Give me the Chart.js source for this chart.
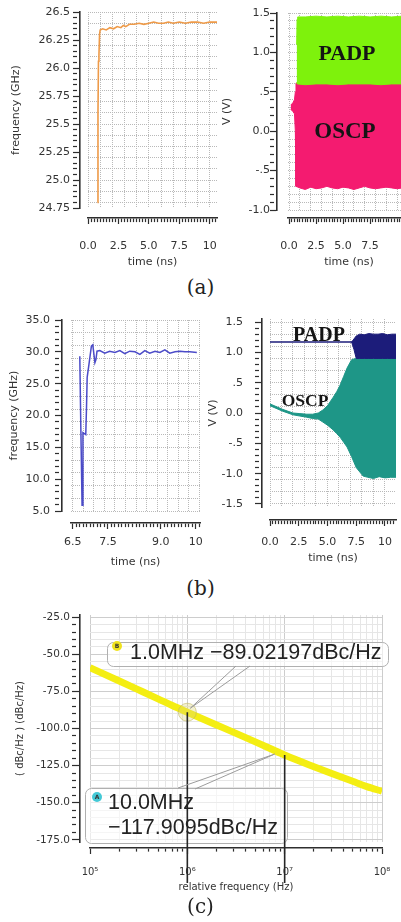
<!DOCTYPE html>
<html><head><meta charset="utf-8">
<script src="https://cdn.jsdelivr.net/npm/chart.js@4.4.1/dist/chart.umd.min.js"></script>
<style>
html,body{margin:0;padding:0;background:#fff;}
body{width:401px;height:922px;position:relative;overflow:hidden;}
canvas{position:absolute;}
.cap{position:absolute;left:0;width:401px;text-align:center;font-family:'DejaVu Serif',serif;font-size:20px;line-height:22px;color:#222;}
.lbl{position:absolute;font-family:'Liberation Serif','Times New Roman',serif;font-weight:bold;color:#141414;white-space:nowrap;transform:translate(-50%,-50%);line-height:1;}
.mk{position:absolute;font-family:'Liberation Sans',Arial,sans-serif;font-size:21.5px;color:#222;white-space:nowrap;line-height:25px;}
.badge{position:absolute;width:10px;height:10px;border-radius:50%;font:bold 6px 'DejaVu Sans',sans-serif;text-align:center;line-height:10px;color:#333;}
</style></head><body>
<canvas id="cA1" width="225" height="275" style="left:0;top:0"></canvas>
<canvas id="cA2" width="210" height="275" style="left:210px;top:0"></canvas>
<canvas id="cB1" width="210" height="275" style="left:0;top:300px"></canvas>
<canvas id="cB2" width="200" height="275" style="left:205px;top:300px"></canvas>
<canvas id="cC" width="401" height="300" style="left:0;top:600px"></canvas>

<div class="lbl" style="left:347px;top:53px;font-size:22px">PADP</div>
<div class="lbl" style="left:345px;top:130px;font-size:23px">OSCP</div>
<div class="lbl" style="left:319px;top:334px;font-size:20px">PADP</div>
<div class="lbl" style="left:305px;top:401px;font-size:17.5px">OSCP</div>

<div class="badge" style="left:112px;top:641px;background:#EFE21E">B</div>
<div class="mk" style="left:130px;top:640px">1.0MHz −89.02197dBc/Hz</div>
<div class="badge" style="left:92px;top:792px;background:#44C9D6">A</div>
<div class="mk" style="left:108px;top:790px">10.0MHz</div>
<div class="mk" style="left:108px;top:815px">−117.9095dBc/Hz</div>

<div class="cap" style="top:276px">(a)</div>
<div class="cap" style="top:577px">(b)</div>
<div class="cap" style="top:895px">(c)</div>

<script>
// ---------------- DATA ----------------
// (a) left: frequency settling
const aFreqTime = [0.78, 0.82, 0.86, 0.9, 0.95, 1.0, 1.2, 1.5, 1.8, 2.1, 2.4, 2.7, 2.9, 3.1, 3.4, 3.8, 4.2, 4.6, 5.0, 5.4, 5.8, 6.2, 6.6, 7.0, 7.5, 8.0, 8.5, 9.0, 9.5, 10.0, 10.6];
const aFreqVal  = [24.8, 25.6, 26.06, 26.12, 26.3, 26.34, 26.35, 26.34, 26.36, 26.35, 26.37, 26.36, 26.38, 26.37, 26.39, 26.39, 26.40, 26.39, 26.40, 26.41, 26.40, 26.40, 26.41, 26.40, 26.41, 26.40, 26.41, 26.41, 26.40, 26.41, 26.41];
const aLeftYMajors = [24.75, 25.0, 25.25, 25.5, 25.75, 26.0, 26.25, 26.5];
const aLeftYLabels = ['24.75', '25.0', '25.25', '25.5', '25.75', '26.0', '26.25', '26.5'];
const aXMajors = [0, 2.5, 5, 7.5, 10];
const aXLabels = ['0.0', '2.5', '5.0', '7.5', '10'];
const aRightXMajors = [0, 2.5, 5, 7.5];
const aRightXLabels = ['0.0', '2.5', '5.0', '7.5'];

// (a) right: PADP / OSCP envelopes
const aPadpTime = [0.7, 0.74, 0.8, 1.5, 2.5, 3.5, 4.5, 5.5, 6.5, 7.5, 8.5, 9.5, 10.5, 11.5];
const aPadpTop  = [1.1, 1.42, 1.45, 1.45, 1.46, 1.45, 1.46, 1.45, 1.46, 1.45, 1.46, 1.45, 1.46, 1.46];
const aPadpBot  = [0.62, 0.6, 0.6, 0.59, 0.6, 0.6, 0.59, 0.6, 0.6, 0.6, 0.59, 0.6, 0.6, 0.6];
const aOscpTime = [0.15, 0.35, 0.5, 0.58, 0.64, 1.0, 1.5, 2.0, 2.5, 3.0, 3.5, 4.0, 4.5, 5.0, 5.5, 6.0, 6.5, 7.0, 7.5, 8.0, 8.5, 9.0, 9.5, 10.0, 10.5, 11.5];
const aOscpTop  = [0.33, 0.36, 0.4, 0.5, 0.61, 0.61, 0.61, 0.61, 0.61, 0.61, 0.61, 0.61, 0.61, 0.61, 0.61, 0.61, 0.61, 0.61, 0.61, 0.61, 0.61, 0.61, 0.61, 0.61, 0.61, 0.61];
const aOscpBot  = [0.28, 0.25, 0.22, 0.0, -0.7, -0.72, -0.74, -0.71, -0.73, -0.72, -0.70, -0.72, -0.73, -0.71, -0.72, -0.74, -0.72, -0.70, -0.72, -0.73, -0.72, -0.71, -0.72, -0.73, -0.72, -0.72];
const aRightYMajors = [-1.0, -0.5, 0, 0.5, 1.0, 1.5];
const aRightYLabels = ['-1.0', '-.5', '0.0', '.5', '1.0', '1.5'];

// (b) left: frequency settling
const bFreqTime = [6.70, 6.73, 6.765, 6.79, 6.87, 6.89, 6.91, 6.96, 7.03, 7.07, 7.13, 7.16, 7.19, 7.27, 7.41, 7.55, 7.70, 7.84, 7.98, 8.12, 8.27, 8.41, 8.55, 8.69, 8.84, 8.98, 9.12, 9.26, 9.41, 9.55, 9.69, 9.83, 10.03];
const bFreqVal  = [29.3, 18.0, 5.9, 17.3, 17.0, 21.0, 26.0, 28.0, 30.9, 31.1, 28.3, 28.8, 30.1, 30.2, 29.8, 30.1, 29.9, 30.2, 29.7, 30.1, 30.0, 29.6, 30.2, 29.8, 30.1, 29.9, 30.3, 29.8, 30.0, 30.1, 30.0, 30.0, 29.9];
const bLeftYMajors = [5, 10, 15, 20, 25, 30, 35];
const bLeftYLabels = ['5.0', '10.0', '15.0', '20.0', '25.0', '30.0', '35.0'];
const bLeftXMajors = [6.5, 7.5, 9.0, 10];
const bLeftXLabels = ['6.5', '7.5', '9.0', '10'];

// (b) right: PADP / OSCP
const bPadpLineTime = [0, 7.2];
const bPadpLineVal  = [1.17, 1.17];
const bPadpBandTime = [7.1, 7.3, 7.5, 7.8, 8.2, 8.6, 9.0, 9.4, 9.8, 10.2, 10.6, 11.0];
const bPadpTop      = [1.17, 1.22, 1.27, 1.3, 1.29, 1.31, 1.3, 1.3, 1.31, 1.29, 1.3, 1.3];
const bPadpBot      = [1.17, 1.05, 0.9, 0.9, 0.9, 0.9, 0.9, 0.9, 0.9, 0.9, 0.9, 0.9];
const bOscpTime = [0, 1.1, 2.0, 2.6, 3.2, 3.7, 4.2, 4.6, 5.0, 5.5, 5.8, 6.1, 6.4, 6.7, 7.1, 7.5, 8.1, 8.5, 9.0, 9.5, 10.0, 10.5, 11.0];
const bOscpTop  = [0.15, 0.06, 0.0, -0.01, -0.02, -0.02, 0.0, 0.05, 0.12, 0.26, 0.35, 0.46, 0.6, 0.74, 0.88, 0.9, 0.9, 0.91, 0.9, 0.9, 0.91, 0.9, 0.9];
const bOscpBot  = [0.12, 0.03, -0.03, -0.05, -0.07, -0.09, -0.1, -0.15, -0.2, -0.28, -0.34, -0.4, -0.48, -0.56, -0.72, -0.9, -1.04, -1.06, -1.08, -1.05, -1.07, -1.06, -1.06];
const bRightYMajors = [-1.5, -1.0, -0.5, 0, 0.5, 1.0, 1.5];
const bRightYLabels = ['-1.5', '-1.0', '-.5', '0.0', '.5', '1.0', '1.5'];

// (c) phase noise
const cFreq = [1e5, 2e5, 3e5, 5e5, 7e5, 1e6, 2e6, 3e6, 5e6, 7e6, 1e7, 2e7, 3e7, 5e7, 7e7, 1e8];
const cPhaseNoise = [-59, -68, -73.3, -80, -84.5, -89.02197, -97.6, -102.6, -109, -113.3, -117.9095, -125.8, -130.2, -135.6, -139.2, -142.3];
const cMarkerFreq = [1e6, 1e7];
const cMarkerVal = [-89.02197, -117.9095];
const cYMajors = [-175, -150, -125, -100, -75, -50, -25];
const cYLabels = ['-175.0', '-150.0', '-125.0', '-100.0', '-75.0', '-50.0', '-25.0'];
const cXMajors = [1e5, 1e6, 1e7, 1e8];
const cXLabels = ['10\u2075', '10\u2076', '10\u2077', '10\u2078'];
const cXTickVals = [1e5,2e5,3e5,4e5,5e5,6e5,7e5,8e5,9e5,1e6,2e6,3e6,4e6,5e6,6e6,7e6,8e6,9e6,1e7,2e7,3e7,4e7,5e7,6e7,7e7,8e7,9e7,1e8];

// ---------------- HELPERS ----------------
Chart.defaults.font.family = "'DejaVu Sans', sans-serif";
Chart.defaults.color = '#333';
const RULER_COLOR = '#2e2e2e';

function zip(xs, ys) { return xs.map((x, i) => ({x: x, y: ys[i]})); }
function makeTicks(lo, hi, step) {
  const n = Math.round((hi - lo) / step), out = [];
  for (let i = 0; i <= n; i++) out.push(+(lo + i * step).toFixed(6));
  return out;
}
function isMult(v, step, base) { const r = (v - (base || 0)) / step; return Math.abs(r - Math.round(r)) < 1e-6; }
function findMajor(majors, v) {
  return majors.findIndex(m => Math.abs(m - v) < 1e-6 * Math.max(1, Math.abs(m)));
}
function labeler(majors, labels) {
  return v => { const i = findMajor(majors, v); return i >= 0 ? labels[i] : ''; };
}

// annotation boxes / marker drop lines / leader lines for panel (c)
const ANNOTS = {};
const decoPlugin = {
  id: 'decoPlugin',
  afterDatasetsDraw(chart) {
    const o = ANNOTS[chart.canvas.id];
    if (!o) return;
    const ctx = chart.ctx, a = chart.chartArea;
    const xs = chart.scales.x, ys = chart.scales.y;
    ctx.save();
    o.boxes.forEach(b => {
      ctx.beginPath();
      ctx.roundRect(b.x + 0.5, b.y + 0.5, b.w, b.h, 6);
      ctx.fillStyle = 'rgba(255,255,255,0.6)';
      ctx.fill();
      ctx.strokeStyle = '#b0b0b0'; ctx.lineWidth = 1;
      ctx.stroke();
    });
    ctx.strokeStyle = '#262626'; ctx.lineWidth = 1.6;
    ctx.beginPath();
    cMarkerFreq.forEach((f, i) => {
      const px = xs.getPixelForValue(f), py = ys.getPixelForValue(cMarkerVal[i]);
      ctx.moveTo(px, py); ctx.lineTo(px, a.bottom + o.drop);
    });
    ctx.stroke();
    ctx.strokeStyle = '#9c9c9c'; ctx.lineWidth = 1;
    ctx.beginPath();
    o.leaders.forEach(L => {
      const px = xs.getPixelForValue(cMarkerFreq[L.m]) + L.dx;
      const py = ys.getPixelForValue(cMarkerVal[L.m]) + L.dy;
      L.from.forEach(f => { ctx.moveTo(f[0], f[1]); ctx.lineTo(px, py); });
    });
    ctx.stroke();
    ctx.restore();
  }
};
Chart.register(decoPlugin);

// main axis: labels, title, grid on chart area
function mainAxis(dir, o, vals, size, tl) {
  return {
    axis: dir, type: o.log ? 'logarithmic' : 'linear',
    position: dir === 'x' ? 'bottom' : 'left', weight: 2,
    min: o.min, max: o.max,
    afterBuildTicks: s => { s.ticks = vals.map(v => ({value: v})); },
    afterFit: s => { if (dir === 'y') s.width = size; else s.height = size; },
    ticks: {autoSkip: false, maxRotation: 0, minRotation: 0, padding: 0, color: '#333',
            font: {size: o.fs || 11}, callback: labeler(o.majors, o.labels)},
    grid: {drawTicks: true, tickLength: Math.max(0, tl), tickColor: 'rgba(0,0,0,0)', lineWidth: 1,
           color: c => (c.tick ? o.gridColor(c.tick.value) : 'rgba(0,0,0,0)')},
    border: {display: false, dash: o.dash || []},
    title: {display: true, text: o.title, color: '#333', font: {size: o.tfs || 11},
            padding: dir === 'y' ? {top: o.tpad, bottom: 0} : {top: 0, bottom: o.tpad}}
  };
}
// ruler axis: axis line + tick marks, set apart from the plot
function rulerAxis(dir, o, vals, len, minorLen) {
  return {
    axis: dir, type: o.log ? 'logarithmic' : 'linear',
    position: dir === 'x' ? 'bottom' : 'left', weight: 1,
    min: o.min, max: o.max,
    afterBuildTicks: s => { s.ticks = vals.map(v => ({value: v})); },
    afterFit: s => { if (dir === 'y') s.width = len; else s.height = len; },
    ticks: {display: false, autoSkip: false, maxRotation: 0, minRotation: 0},
    grid: {display: true, drawOnChartArea: false, drawTicks: true, tickLength: len,
           tickColor: RULER_COLOR, tickWidth: 1.2,
           tickBorderDash: c => (c.tick && findMajor(o.majors, c.tick.value) < 0) ? [minorLen, 60] : []},
    border: {display: true, color: RULER_COLOR, width: 1.6},
    title: {display: false}
  };
}
// spacer axis: empty gap between plot and ruler
function gapAxis(dir, o, vals, size) {
  return {
    axis: dir, type: o.log ? 'logarithmic' : 'linear',
    position: dir === 'x' ? 'bottom' : 'left', weight: 0,
    min: o.min, max: o.max,
    afterBuildTicks: s => { s.ticks = vals.map(v => ({value: v})); },
    afterFit: s => { if (dir === 'y') s.width = size; else s.height = size; },
    ticks: {display: false}, grid: {display: false}, border: {display: false}, title: {display: false}
  };
}
function dottedGrid(step, base) {
  return v => isMult(v, step, base) ? '#b9b9b9' : 'rgba(0,0,0,0)';
}
function makeChart(id, cfg) {
  if (cfg.annot) ANNOTS[id] = cfg.annot;
  const r = Object.assign({yLen: 7, yMinor: 4, xLen: 6, xMinor: 3.5}, cfg.ruler);
  const xv = cfg.x.vals || makeTicks(cfg.x.lo, cfg.x.hi, cfg.x.minor);
  const yv = cfg.y.vals || makeTicks(cfg.y.lo, cfg.y.hi, cfg.y.minor);
  const scales = {
    x:  mainAxis('x', cfg.x, xv, cfg.x.size - r.xGap - r.xLen, cfg.x.pad - r.xGap - r.xLen),
    xg: gapAxis('x', cfg.x, xv, r.xGap),
    xr: rulerAxis('x', cfg.x, xv, r.xLen, r.xMinor),
    y:  mainAxis('y', cfg.y, yv, cfg.y.size - r.yGap - r.yLen, cfg.y.pad - r.yGap - r.yLen),
    yg: gapAxis('y', cfg.y, yv, r.yGap),
    yr: rulerAxis('y', cfg.y, yv, r.yLen, r.yMinor)
  };
  cfg.datasets.forEach(d => { d.xAxisID = 'x'; d.yAxisID = 'y'; });
  return new Chart(document.getElementById(id), {
    type: 'line',
    data: {datasets: cfg.datasets},
    options: {
      responsive: false, animation: false, devicePixelRatio: 1, events: [],
      layout: {padding: cfg.padding},
      plugins: {legend: {display: false}, tooltip: {enabled: false}},
      scales: scales
    }
  });
}
function lineDs(data, color, width) {
  return {data: data, borderColor: color, borderWidth: width, pointRadius: 0, fill: false};
}
function bandDs(times, top, bot, color) {
  return [
    {data: zip(times, top), borderColor: color, backgroundColor: color, borderWidth: 1, pointRadius: 0, fill: '+1'},
    {data: zip(times, bot), borderColor: color, borderWidth: 1, pointRadius: 0, fill: false}
  ];
}

const GREEN = '#7EF20C', PINK = '#F41B70', TEAL = '#1E9687', NAVY = '#1C1C7A';

// ---------------- (a) left ----------------
makeChart('cA1', {
  padding: {top: 12, right: 8, left: 0, bottom: 0},
  datasets: [lineDs(zip(aFreqTime, aFreqVal), '#EE9A48', 1.6)],
  ruler: {yGap: 8, xGap: 10},
  x: {min: 0, max: 10.6, lo: 0, hi: 10.5, minor: 0.25, majors: aXMajors, labels: aXLabels,
      size: 67, pad: 32, title: 'time (ns)', tpad: 6, gridColor: dottedGrid(1), dash: [1, 1]},
  y: {min: 24.75, max: 26.5, lo: 24.75, hi: 26.5, minor: 0.05, majors: aLeftYMajors, labels: aLeftYLabels,
      size: 88, pad: 18, title: 'frequency (GHz)', tpad: 10, gridColor: dottedGrid(0.1), dash: [1, 1]}
});

// ---------------- (a) right ----------------
makeChart('cA2', {
  padding: {top: 13, right: 10, left: 0, bottom: 0},
  datasets: [].concat(bandDs(aPadpTime, aPadpTop, aPadpBot, GREEN), bandDs(aOscpTime, aOscpTop, aOscpBot, PINK)),
  ruler: {yGap: 11, xGap: 8},
  x: {min: -0.1, max: 11.2, lo: 0, hi: 11.0, minor: 0.25, majors: aRightXMajors, labels: aRightXLabels,
      size: 65, pad: 30, title: 'time (ns)', tpad: 6, gridColor: dottedGrid(1), dash: [1, 1]},
  y: {min: -1.0, max: 1.5, lo: -1.0, hi: 1.5, minor: 0.1, majors: aRightYMajors, labels: aRightYLabels,
      size: 78, pad: 18, title: 'V (V)', tpad: 11, gridColor: dottedGrid(0.1), dash: [1, 1]}
});

// ---------------- (b) left ----------------
makeChart('cB1', {
  padding: {top: 20, right: 10, left: 0, bottom: 0},
  datasets: [lineDs(zip(bFreqTime, bFreqVal), '#4B4BC8', 1.5)],
  ruler: {yGap: 9, xGap: 12},
  x: {min: 6.45, max: 10.12, lo: 6.5, hi: 10.1, minor: 0.1, majors: bLeftXMajors, labels: bLeftXLabels,
      size: 64, pad: 25, title: 'time (ns)', tpad: 6, gridColor: dottedGrid(0.3, 6.5), dash: [1, 1]},
  y: {min: 5, max: 35, lo: 5, hi: 35, minor: 1, majors: bLeftYMajors, labels: bLeftYLabels,
      size: 71, pad: 21, title: 'frequency (GHz)', tpad: 8, gridColor: dottedGrid(2, 5), dash: [1, 1]}
});

// ---------------- (b) right ----------------
makeChart('cB2', {
  padding: {top: 19, right: 9, left: 0, bottom: 0},
  datasets: [].concat(
    bandDs(bPadpBandTime, bPadpTop, bPadpBot, NAVY),
    [lineDs(zip(bPadpLineTime, bPadpLineVal), NAVY, 1.6)],
    bandDs(bOscpTime, bOscpTop, bOscpBot, TEAL)),
  ruler: {yGap: 8, xGap: 13},
  x: {min: 0, max: 10.96, lo: 0, hi: 10.75, minor: 0.25, majors: aXMajors, labels: aXLabels,
      size: 68, pad: 29, title: 'time (ns)', tpad: 10, gridColor: dottedGrid(1), dash: [1, 1]},
  y: {min: -1.55, max: 1.55, lo: -1.5, hi: 1.5, minor: 0.1, majors: bRightYMajors, labels: bRightYLabels,
      size: 65, pad: 27, title: 'V (V)', tpad: 1.5, gridColor: dottedGrid(0.2, -1.5), dash: [1, 1]}
});

// ---------------- (c) ----------------
makeChart('cC', {
  padding: {top: 15, right: 19, left: 0, bottom: 0},
  datasets: [
    {data: zip(cMarkerFreq, cMarkerVal), showLine: false, pointRadius: [9, 0],
     pointBackgroundColor: 'rgba(222,212,120,0.35)', pointBorderColor: 'rgba(190,180,90,0.55)', pointBorderWidth: 1},
    {data: zip(cFreq, cPhaseNoise), borderColor: '#F4EE12', borderWidth: 7, pointRadius: 0, fill: false,
     tension: 0.4, cubicInterpolationMode: 'monotone'}
  ],
  ruler: {yGap: 10, xGap: 6, yLen: 8, yMinor: 4, xLen: 6, xMinor: 3},
  annot: {drop: 41,
    boxes: [{x: 107, y: 42, w: 281, h: 24}, {x: 85, y: 188, w: 202, h: 55}],
    leaders: [
      {m: 0, dx: 3, dy: -4, from: [[236, 66], [250, 66]]},
      {m: 1, dx: -10, dy: -1, from: [[178, 188], [195, 189]]}
    ]},
  x: {log: true, min: 1e5, max: 1e8, vals: cXTickVals, majors: cXMajors, labels: cXLabels, fs: 10,
      size: 58, pad: 24, title: 'relative frequency (Hz)', tfs: 10, tpad: 7,
      gridColor: v => cXMajors.some(m => Math.abs(m - v) < 1e-6 * m) ? '#cdcdcd' : '#e6e6e6'},
  y: {min: -176.5, max: -23.5, lo: -175, hi: -25, minor: 5, majors: cYMajors, labels: cYLabels, fs: 10.5,
      size: 90, pad: 20, title: '( dBc/Hz ) (dBc/Hz)', tfs: 10, tpad: 14,
      gridColor: v => isMult(v, 25) ? '#cdcdcd' : '#e6e6e6'}
});
</script>
</body></html>
